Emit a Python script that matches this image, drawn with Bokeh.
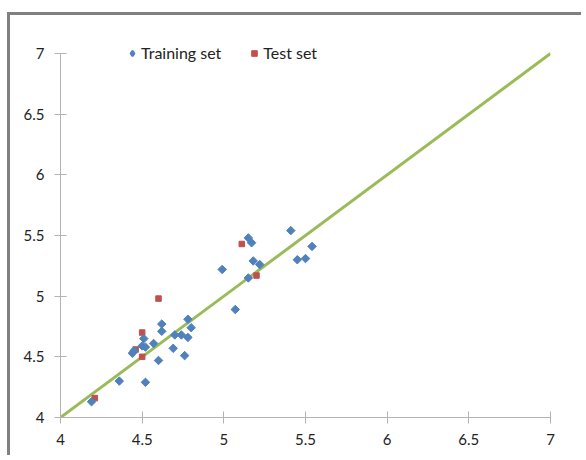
import math
from bokeh.plotting import figure
from bokeh.models import Range1d, Legend, LegendItem, FixedTicker, NumeralTickFormatter
from bokeh.embed import file_html
from bokeh.resources import INLINE

# Training set (blue diamonds)
train_x = [4.19, 4.36, 4.52, 4.44, 4.45, 4.50, 4.52, 4.51, 4.57, 4.60,
           4.62, 4.62, 4.69, 4.70, 4.74, 4.78, 4.76, 4.78, 4.80, 4.99,
           5.07, 5.15, 5.15, 5.17, 5.18, 5.22, 5.41, 5.45, 5.50, 5.54]
train_y = [4.13, 4.30, 4.29, 4.53, 4.55, 4.59, 4.58, 4.65, 4.61, 4.47,
           4.77, 4.71, 4.57, 4.68, 4.68, 4.66, 4.51, 4.81, 4.74, 5.22,
           4.89, 5.15, 5.48, 5.44, 5.29, 5.26, 5.54, 5.30, 5.31, 5.41]

# Test set (red squares)
test_x = [4.21, 4.46, 4.50, 4.50, 4.60, 5.11, 5.20]
test_y = [4.16, 4.56, 4.50, 4.70, 4.98, 5.43, 5.17]

# Ideal line y = x
line_x = [4, 7]
line_y = [4, 7]

ticks = [4, 4.5, 5, 5.5, 6, 6.5, 7]
series_labels = ["Training set", "Test set"]

p = figure(width=574, height=443, output_backend="svg", toolbar_location=None,
           x_range=Range1d(4, 7), y_range=Range1d(4, 7.115),
           min_border_left=50, min_border_right=34,
           min_border_top=24, min_border_bottom=41)
p.styles = {"margin-top": "12px", "margin-left": "7px",
            "border-top": "3px solid #808080",
            "border-left": "3px solid #808080"}

p.grid.visible = False
p.outline_line_color = None
p.background_fill_color = "white"
p.border_fill_color = "white"

for ax in (p.xaxis[0], p.yaxis[0]):
    ax.ticker = FixedTicker(ticks=ticks)
    ax.formatter = NumeralTickFormatter(format="0.[0]")
    ax.bounds = (4, 7)
    ax.axis_line_color = "#B3B3B3"
    ax.major_tick_line_color = "#B3B3B3"
    ax.major_tick_in = 6
    ax.major_tick_out = 6
    ax.minor_tick_line_color = None
    ax.major_label_text_font = "Lato"
    ax.major_label_text_font_size = "15px"
    ax.major_label_text_color = "#222222"
p.xaxis.major_label_standoff = 10
p.yaxis.major_label_standoff = 10

ln = p.line(line_x, line_y, line_color="#9BBB59", line_width=3)
rt = p.scatter(test_x, test_y, marker="square", size=5.5,
               fill_color="#C0504D", line_color="#C0504D", line_width=1)
rtr = p.scatter(train_x, train_y, marker="square", angle=math.pi / 4, size=6,
                fill_color="#4F81BD", line_color="#4F81BD", line_width=1)
# hidden twin of the training set, used only as its diamond legend key
rtr_key = p.scatter(train_x, train_y, marker="diamond", size=6,
                    fill_color="#4F81BD", line_color="#4F81BD", line_width=2,
                    visible=False)

legend = Legend(items=[LegendItem(label=series_labels[0], renderers=[rtr_key]),
                       LegendItem(label=series_labels[1], renderers=[rt])],
                location=(65, 355), orientation="horizontal",
                label_text_font="Lato", label_text_font_size="16px",
                label_text_color="#222222",
                glyph_width=14, glyph_height=14, label_height=14,
                label_standoff=2, spacing=26, padding=0, margin=0,
                border_line_color=None, background_fill_alpha=0)
p.add_layout(legend)

open("out.html", "w").write(file_html(p, INLINE))
